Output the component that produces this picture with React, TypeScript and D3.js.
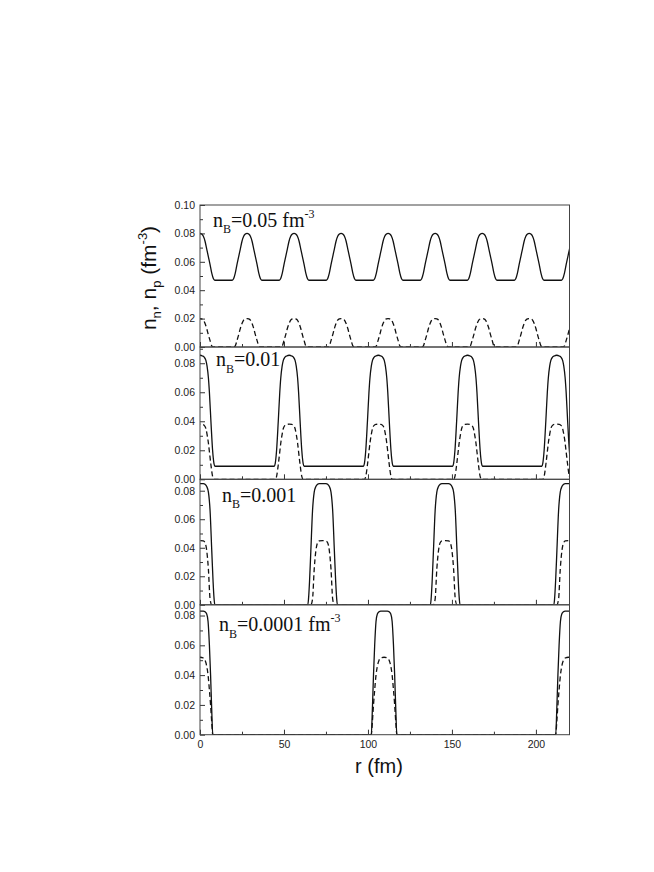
import { useEffect, useRef } from 'react';
import * as d3 from 'd3';

// r axis (fm)
const rDomain = [0, 220];
const rMajorTicks = [0, 50, 100, 150, 200];
const rMinorTicks = [25, 75, 125, 175];

// y limits of the four stacked panels (fm^-3)
const yMaxes = [0.1, 0.0912, 0.088, 0.0872];
const yTicksTop = [0, 0.02, 0.04, 0.06, 0.08, 0.1];
const yTicksLower = [0, 0.02, 0.04, 0.06, 0.08];
const yMinorTicks = [0.01, 0.03, 0.05, 0.07, 0.09];

const labelValues = ['0.05', '0.01', '0.001', '0.0001'];
const labelHasUnit = [true, false, false, true];

// nB = 0.05 : cell centres and one half-cell profile (distance from centre)
const centers1 = [0, 28, 56, 84, 112, 140, 168, 196, 224];
const dist1 = [0, 1, 2, 3, 4, 5, 6, 7, 8, 8.8, 14];
const nn1 = [0.08, 0.0795, 0.078, 0.0745, 0.069, 0.0635, 0.058, 0.052, 0.048, 0.047, 0.047];
const np1 = [0.02, 0.0198, 0.019, 0.0165, 0.013, 0.0085, 0.0045, 0.0008, 0, 0, 0];

// nB = 0.01
const centers2 = [0, 53.1, 106.2, 159.3, 212.4];
const dist2 = [0, 1.5, 2.5, 3.5, 4.2, 5, 5.6, 6.5, 7.5, 8.3, 8.9, 26.5];
const nn2 = [0.0855, 0.085, 0.0842, 0.082, 0.078, 0.07, 0.06, 0.04, 0.02, 0.011, 0.009, 0.009];
const np2 = [0.038, 0.0378, 0.0372, 0.035, 0.031, 0.025, 0.019, 0.01, 0.002, 0, 0, 0];

// nB = 0.001
const centers3 = [0, 73, 146, 219.5];
const dist3 = [0, 2, 3, 4, 5, 6, 7, 7.8, 8.4, 8.8, 36.5];
const nn3 = [0.085, 0.085, 0.0845, 0.083, 0.079, 0.066, 0.038, 0.016, 0.004, 0, 0];
const np3 = [0.045, 0.0448, 0.0435, 0.038, 0.025, 0.004, 0, 0, 0, 0, 0];

// nB = 0.0001
const centers4 = [0, 109.6, 219.4];
const dist4 = [0, 2, 3, 4, 4.8, 5.6, 6.3, 7, 7.6, 54.7];
const nn4 = [0.083, 0.083, 0.0825, 0.081, 0.076, 0.06, 0.04, 0.016, 0, 0];
const np4 = [0.052, 0.0515, 0.05, 0.046, 0.04, 0.03, 0.02, 0.008, 0, 0];

const panelData = [
  { centers: centers1, dist: dist1, nn: nn1, np: np1 },
  { centers: centers2, dist: dist2, nn: nn2, np: np2 },
  { centers: centers3, dist: dist3, nn: nn3, np: np3 },
  { centers: centers4, dist: dist4, nn: nn4, np: np4 },
];

// layout
const W = 654;
const H = 872;
const X0 = 200;
const X1 = 569.5;
const panelTops = [205, 347, 479.3, 604.8];
const panelBottoms = [347, 479.3, 604.8, 734.7];
const labelPos = [[213, 227, 6], [216, 366, 7], [222, 502, 6], [219, 631, 7]];

const SANS = 'Arial, "Liberation Sans", sans-serif';
const SERIF = '"Times New Roman", "Liberation Serif", serif';

// repeat a half-cell profile around each cell centre
function tile(centers, dist, vals) {
  const pts = [];
  centers.forEach(c => {
    dist.forEach((d, i) => {
      pts.push([c - d, vals[i]]);
      if (d > 0) pts.push([c + d, vals[i]]);
    });
  });
  pts.sort((a, b) => a[0] - b[0]);
  const out = [];
  pts.forEach(p => {
    if (!out.length || p[0] - out[out.length - 1][0] > 0.05) out.push(p);
  });
  return out.filter(p => p[0] >= -12 && p[0] <= 235);
}

const App = () => {
  const svgRef = useRef(null);

  useEffect(() => {
    const svg = d3.select(svgRef.current);
    svg.selectAll('*').remove();

    const x = d3.scaleLinear().domain(rDomain).range([X0, X1]);

    panelData.forEach((pd, i) => {
      const top = panelTops[i];
      const bottom = panelBottoms[i];
      const y = d3.scaleLinear().domain([0, yMaxes[i]]).range([bottom, top]);
      const g = svg.append('g');

      const clipId = `clip-${i}`;
      svg.append('clipPath').attr('id', clipId)
        .append('rect')
        .attr('x', X0).attr('y', top)
        .attr('width', X1 - X0).attr('height', bottom - top);

      const line = d3.line()
        .x(d => x(d[0]))
        .y(d => y(d[1]))
        .curve(d3.curveMonotoneX);

      const curves = g.append('g').attr('clip-path', `url(#${clipId})`);
      curves.append('path')
        .attr('d', line(tile(pd.centers, pd.dist, pd.nn)))
        .attr('fill', 'none')
        .attr('stroke', '#111')
        .attr('stroke-width', 1.3);
      curves.append('path')
        .attr('d', line(tile(pd.centers, pd.dist, pd.np)))
        .attr('fill', 'none')
        .attr('stroke', '#111')
        .attr('stroke-width', 1.3)
        .attr('stroke-dasharray', '5,3');

      // left axis, inward ticks
      const yTicks = i === 0 ? yTicksTop : yTicksLower;
      g.append('g')
        .attr('transform', `translate(${X0},0)`)
        .call(d3.axisLeft(y).tickValues(yTicks).tickSize(-5).tickPadding(5)
          .tickFormat(d3.format('.2f')))
        .call(a => a.select('.domain').remove())
        .call(a => a.selectAll('text')
          .attr('font-family', SANS).attr('font-size', 10.5).attr('fill', '#222'));
      g.append('g')
        .attr('transform', `translate(${X0},0)`)
        .call(d3.axisLeft(y).tickValues(yMinorTicks.filter(v => v < yMaxes[i]))
          .tickSize(-3).tickFormat(() => ''))
        .call(a => a.select('.domain').remove());

      // bottom axis, inward ticks
      const isLast = i === panelData.length - 1;
      g.append('g')
        .attr('transform', `translate(0,${bottom})`)
        .call(d3.axisBottom(x).tickValues(rMajorTicks).tickSize(-5).tickPadding(6)
          .tickFormat(isLast ? d3.format('d') : () => ''))
        .call(a => a.select('.domain').remove())
        .call(a => a.selectAll('text')
          .attr('font-family', SANS).attr('font-size', 10.5).attr('fill', '#222'));
      g.append('g')
        .attr('transform', `translate(0,${bottom})`)
        .call(d3.axisBottom(x).tickValues(rMinorTicks).tickSize(-3).tickFormat(() => ''))
        .call(a => a.select('.domain').remove());

      g.selectAll('.tick line').attr('stroke', '#333');

      // frame
      g.append('rect')
        .attr('x', X0).attr('y', top)
        .attr('width', X1 - X0).attr('height', bottom - top)
        .attr('fill', 'none')
        .attr('stroke', '#444')
        .attr('stroke-width', 1);

      // panel label
      const [lx, ly, sub] = labelPos[i];
      const t = g.append('text')
        .attr('x', lx).attr('y', ly)
        .attr('font-family', SERIF).attr('font-size', 20).attr('fill', '#111');
      t.append('tspan').text('n');
      t.append('tspan').attr('font-size', 12).attr('dy', sub).text('B');
      t.append('tspan').attr('dy', -sub)
        .text(`=${labelValues[i]}${labelHasUnit[i] ? ' fm' : ''}`);
      if (labelHasUnit[i]) {
        t.append('tspan').attr('font-size', 12).attr('dy', -9).text('-3');
      }
    });

    // y axis title
    const yt = svg.append('text')
      .attr('transform', 'translate(156,278) rotate(-90)')
      .attr('text-anchor', 'middle')
      .attr('font-family', SANS).attr('font-size', 21).attr('fill', '#111');
    yt.append('tspan').text('n');
    yt.append('tspan').attr('font-size', 13).attr('dy', 5).text('n');
    yt.append('tspan').attr('dy', -5).text(', n');
    yt.append('tspan').attr('font-size', 13).attr('dy', 5).text('p');
    yt.append('tspan').attr('dy', -5).text(' (fm');
    yt.append('tspan').attr('font-size', 13).attr('dy', -9).text('-3');
    yt.append('tspan').attr('dy', 9).text(')');

    // x axis title
    svg.append('text')
      .attr('x', 379).attr('y', 773)
      .attr('text-anchor', 'middle')
      .attr('font-family', SANS).attr('font-size', 20).attr('fill', '#111')
      .text('r (fm)');
  }, []);

  return (
    <svg
      ref={svgRef}
      width={W}
      height={H}
      style={{ position: 'absolute', left: 0, top: 0, background: '#fff' }}
    />
  );
};

export default App;
